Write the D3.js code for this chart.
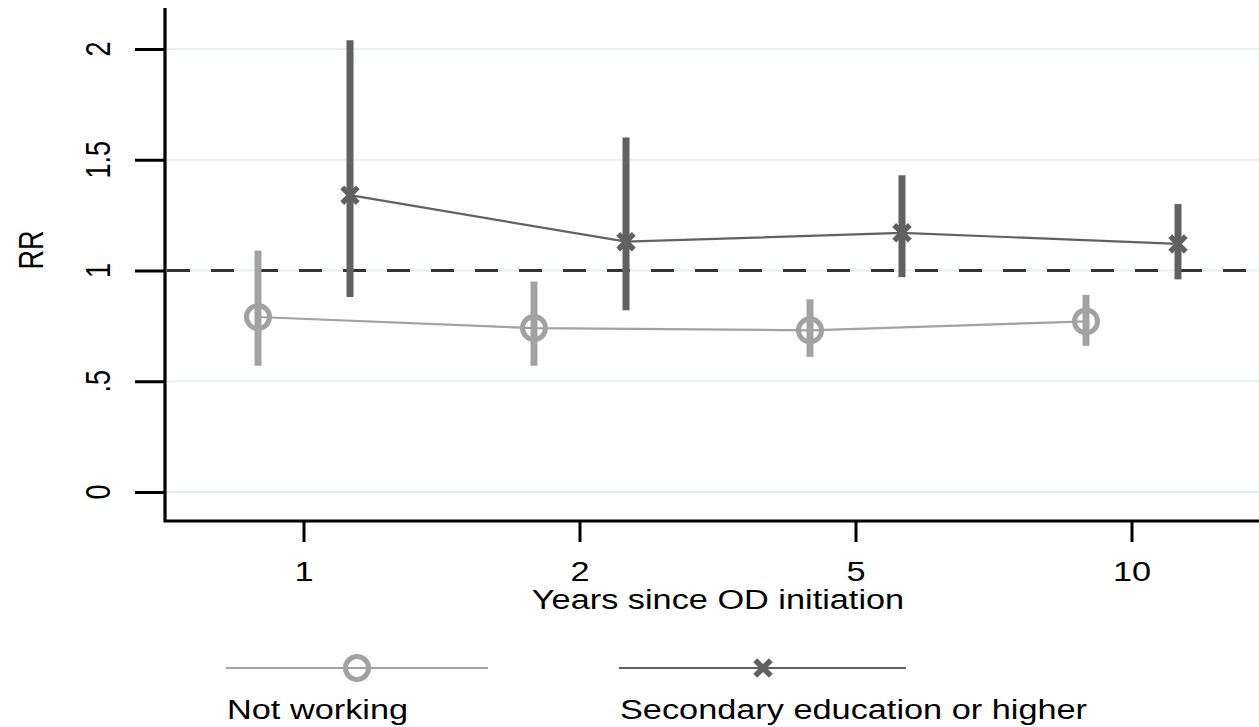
<!DOCTYPE html>
<html>
<head>
<meta charset="utf-8">
<script src="https://cdn.jsdelivr.net/npm/d3@7"></script>
<style>
  html, body { margin: 0; padding: 0; background: #fff; }
  svg { display: block; }
  text { font-family: "Liberation Sans", Arial, sans-serif; fill: #000; }
</style>
</head>
<body>
<script>
// Follow-up years since OD initiation
const years = ["1", "2", "5", "10"];
const seriesNames = ["Not working", "Secondary education or higher"];

// Rate ratios with 95% confidence limits
const notWorkingRR = [0.79, 0.74, 0.73, 0.77];
const notWorkingLo = [0.57, 0.57, 0.61, 0.66];
const notWorkingHi = [1.09, 0.95, 0.87, 0.89];

const secondaryRR = [1.34, 1.13, 1.17, 1.12];
const secondaryLo = [0.88, 0.82, 0.97, 0.96];
const secondaryHi = [2.04, 1.60, 1.43, 1.30];

const yTicks = [0, 0.5, 1, 1.5, 2];
const yTickLabels = ["0", ".5", "1", "1.5", "2"];
const referenceRR = 1;

const W = 1259, H = 727;
const SX = 1.27; // horizontal text stretch
const FS = 27;
const colors = { "Not working": "#a2a2a2", "Secondary education or higher": "#616161" };

const svg = d3.select("body").append("svg").attr("width", W).attr("height", H);

const axisX = 165, axisBottom = 521, axisTop = 8;

const x = d3.scaleBand().domain(years).range([166, 1270]).padding(0);
const dodge = d3.scalePoint().domain(seriesNames).range([-46, 46]);
const y = d3.scaleLinear().domain([0, 2]).range([492, 49]);

const series = [
  { name: seriesNames[0], rr: notWorkingRR, lo: notWorkingLo, hi: notWorkingHi },
  { name: seriesNames[1], rr: secondaryRR, lo: secondaryLo, hi: secondaryHi }
].map(s => ({
  ...s,
  pts: years.map((yr, i) => ({ yr, rr: s.rr[i], lo: s.lo[i], hi: s.hi[i], cx: x(yr) + x.bandwidth() / 2 + dodge(s.name) }))
}));

// gridlines
svg.append("g").selectAll("line").data(yTicks).join("line")
  .attr("x1", axisX).attr("x2", W)
  .attr("y1", d => y(d)).attr("y2", d => y(d))
  .attr("stroke", "#e7eff1").attr("stroke-width", 2);

// reference line at RR = 1
svg.append("line")
  .attr("x1", axisX + 2).attr("x2", W)
  .attr("y1", y(referenceRR)).attr("y2", y(referenceRR))
  .attr("stroke", "#333").attr("stroke-width", 3)
  .attr("stroke-dasharray", "23 21");

// connecting lines
const lineGen = d3.line().x(d => d.cx).y(d => y(d.rr));
svg.append("g").selectAll("path").data(series).join("path")
  .attr("d", s => lineGen(s.pts))
  .attr("fill", "none")
  .attr("stroke", s => colors[s.name])
  .attr("stroke-width", 2.2);

// confidence interval spikes
series.forEach(s => {
  svg.append("g").selectAll("line").data(s.pts).join("line")
    .attr("x1", d => d.cx).attr("x2", d => d.cx)
    .attr("y1", d => y(d.lo)).attr("y2", d => y(d.hi))
    .attr("stroke", colors[s.name]).attr("stroke-width", 7);
});

// markers
const xSym = d3.symbol(d3.symbolX, 160);
function drawMarker(g, name, cx, cy) {
  if (name === seriesNames[0]) {
    g.append("circle").attr("cx", cx).attr("cy", cy).attr("r", 11.5)
      .attr("fill", "none").attr("stroke", colors[name]).attr("stroke-width", 5);
  } else {
    g.append("path").attr("d", xSym()).attr("transform", `translate(${cx},${cy})`)
      .attr("fill", "none").attr("stroke", colors[name]).attr("stroke-width", 5.5);
  }
}
const markers = svg.append("g");
series.forEach(s => s.pts.forEach(d => drawMarker(markers, s.name, d.cx, y(d.rr))));

// axes
const yAxis = svg.append("g").attr("transform", `translate(${axisX},0)`)
  .call(d3.axisLeft(y).tickValues(yTicks).tickSize(30).tickFormat(""));
yAxis.select(".domain").remove();
yAxis.selectAll(".tick line").attr("stroke", "#000").attr("stroke-width", 3);

const xAxis = svg.append("g").attr("transform", `translate(0,${axisBottom})`)
  .call(d3.axisBottom(x).tickSize(21).tickFormat(""));
xAxis.select(".domain").remove();
xAxis.selectAll(".tick line").attr("stroke", "#000").attr("stroke-width", 3);

svg.append("path")
  .attr("d", d3.line()([[axisX, axisTop], [axisX, axisBottom], [W, axisBottom]]))
  .attr("fill", "none").attr("stroke", "#000").attr("stroke-width", 3.2);

// tick labels
svg.append("g").selectAll("text").data(yTicks).join("text")
  .attr("transform", d => `translate(110,${y(d)}) scale(${SX},1) rotate(-90)`)
  .attr("text-anchor", "middle").attr("font-size", FS)
  .text((d, i) => yTickLabels[i]);

svg.append("g").selectAll("text").data(years).join("text")
  .attr("transform", d => `translate(${x(d) + x.bandwidth() / 2},581) scale(${SX},1)`)
  .attr("text-anchor", "middle").attr("font-size", FS)
  .text(d => d);

// axis titles
svg.append("text")
  .attr("transform", `translate(43,250) scale(${SX},1) rotate(-90)`)
  .attr("text-anchor", "middle").attr("font-size", FS).text("RR");

svg.append("text")
  .attr("transform", `translate(718,609) scale(${SX},1)`)
  .attr("text-anchor", "middle").attr("font-size", FS).text("Years since OD initiation");

// legend
const legendItems = [
  { name: seriesNames[0], x0: 226, x1: 488, mx: 357 },
  { name: seriesNames[1], x0: 619, x1: 906, mx: 763 }
];
const legend = svg.append("g");
legendItems.forEach(it => {
  legend.append("line").attr("x1", it.x0).attr("x2", it.x1).attr("y1", 668).attr("y2", 668)
    .attr("stroke", colors[it.name]).attr("stroke-width", 2.2);
  drawMarker(legend, it.name, it.mx, 668);
  legend.append("text")
    .attr("transform", `translate(${it.x0 + 1},719) scale(${SX},1)`)
    .attr("font-size", FS).text(it.name);
});
</script>
</body>
</html>
